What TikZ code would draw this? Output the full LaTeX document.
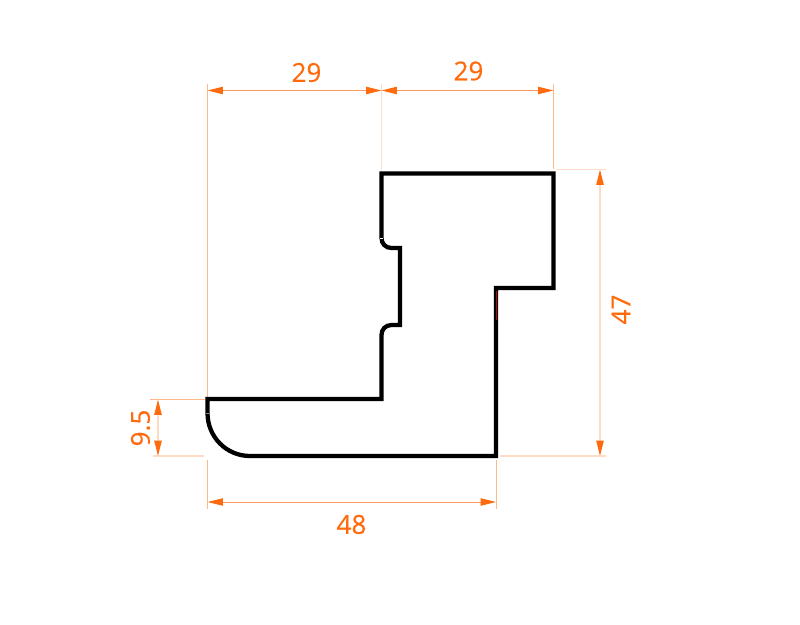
\documentclass[tikz,border=0pt]{standalone}
\usepackage{fontspec}
\setmainfont[FakeBold=0.35]{Open Sans}
\usetikzlibrary{arrows.meta}
\definecolor{dimorange}{HTML}{FF6A0D}
\definecolor{dimline}{HTML}{FF9C5C}
\definecolor{extline}{HTML}{FFB88A}
\definecolor{paleline}{HTML}{FFDCC6}
\tikzset{
  profile/.style={line width=3.2pt,black,line cap=butt,line join=miter},
  extend/.style={line width=0.75pt,extline},
  extendpale/.style={line width=0.9pt,paleline},
  dimension/.style={line width=0.75pt,dimline,{Triangle[length=11.5pt,width=5.5pt,color=dimorange]}-{Triangle[length=11.5pt,width=5.5pt,color=dimorange]}},
  dimensionpale/.style={line width=0.9pt,paleline,{Triangle[length=11.5pt,width=5.5pt,color=dimorange]}-{Triangle[length=11.5pt,width=5.5pt,color=dimorange]}},
  dimtext/.style={text=dimorange,font=\fontsize{19.5pt}{20pt}\selectfont,inner sep=0pt}
}
\begin{document}
\begin{tikzpicture}[x=0.75pt,y=-0.75pt]
\useasboundingbox (0,0) rectangle (800,625);
% anchor points of the dimensions
\coordinate (a1) at (207.5,90.5);
\coordinate (a2) at (381.5,90.5);
\coordinate (a3) at (553.5,90.5);
\coordinate (b1) at (600,169.5);
\coordinate (b2) at (600,456);
\coordinate (c1) at (158,399.5);
\coordinate (c2) at (158,456);
\coordinate (d1) at (207.5,502);
\coordinate (d2) at (496,502);
% extension lines
\draw[extend] (207.5,84) -- (207.5,399);
\draw[extend] (207.5,460) -- (207.5,509);
\draw[extendpale] (381.5,84) -- (381.5,170);
\draw[extend] (553.5,84) -- (553.5,169);
\draw[extend] (496,460) -- (496,509);
\draw[extendpale] (557,169.5) -- (606,169.5);
\draw[extendpale] (500,456) -- (606,456);
\draw[extend] (150,399.5) -- (205,399.5);
\draw[extendpale] (153,456) -- (204,456);
% dimension lines
\draw[dimension] (a1) -- (a2);
\draw[dimension] (a2) -- (a3);
\draw[dimensionpale] (b1) -- (b2);
\draw[dimensionpale] (c1) -- (c2);
\draw[dimension] (d1) -- (d2);
% labels
\node[dimtext] (t1) at (306.5,72.5) {29};
\node[dimtext] (t2) at (468.5,71) {29};
\node[dimtext,rotate=90] (t3) at (621,309.5) {47};
\node[dimtext,rotate=90] (t4) at (140.5,428) {9.5};
\node[dimtext] (t5) at (351.5,524.5) {48};
% profile
\draw[profile]
  (207.5,399) -- (381.5,399) -- (381.5,335)
  .. controls (381.5,329.5) and (385.5,325) .. (391.5,325)
  -- (400,325) -- (400,248) -- (391.5,248)
  .. controls (385.5,248) and (381.5,243.5) .. (381.5,238)
  -- (381.5,173.5) -- (553.5,173.5) -- (553.5,288) -- (496,288) -- (496,456) -- (250,456)
  .. controls (226.5,456) and (207.5,437) .. (207.5,413) -- cycle;
\draw[line width=0.4pt,white] (380,238) -- (383,238);
\draw[line width=0.4pt,black!50] (206,413) -- (209,413);
\draw[line width=0.9pt,red!75!black] (496.5,291) -- (496.5,320);
\end{tikzpicture}
\end{document}
